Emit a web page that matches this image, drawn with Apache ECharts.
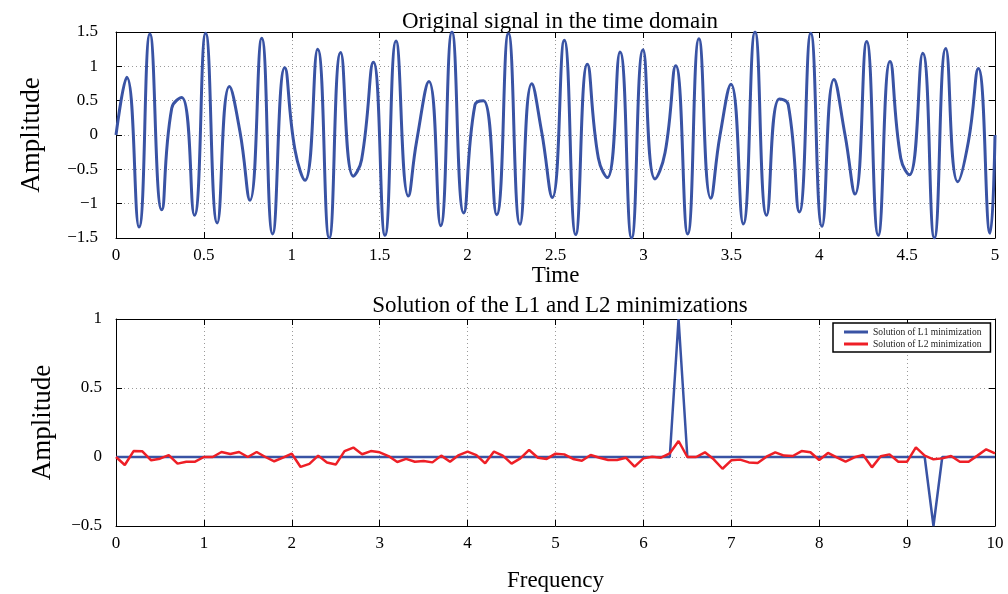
<!DOCTYPE html>
<html>
<head>
<meta charset="utf-8">
<script src="https://cdn.jsdelivr.net/npm/echarts@6/dist/echarts.min.js"></script>
<style>html,body{margin:0;padding:0;background:#fff;}#c{width:1008px;height:594px;}</style>
</head>
<body>
<div id="c"></div>
<script>
// Top panel: time-domain signal, read at local extrema / shoulders
const timeVals = [0, 0.061, 0.131, 0.193, 0.26, 0.317, 0.374, 0.446, 0.51, 0.576, 0.645, 0.705, 0.762, 0.829, 0.891, 0.96, 1.018, 1.075, 1.147, 1.213, 1.278, 1.35, 1.397, 1.464, 1.53, 1.593, 1.663, 1.71, 1.78, 1.847, 1.911, 1.978, 2.042, 2.09, 2.165, 2.232, 2.298, 2.365, 2.421, 2.482, 2.55, 2.615, 2.681, 2.744, 2.795, 2.867, 2.933, 2.998, 3.066, 3.123, 3.184, 3.252, 3.316, 3.383, 3.436, 3.498, 3.568, 3.635, 3.701, 3.773, 3.824, 3.887, 3.952, 4.016, 4.084, 4.147, 4.204, 4.27, 4.336, 4.403, 4.464, 4.513, 4.589, 4.655, 4.72, 4.788, 4.849, 4.905, 4.972, 5.0];
const signalVals = [0, 0.84, -1.34, 1.47, -1.09, 0.39, 0.545, -1.17, 1.48, -1.28, 0.705, 0.05, -0.95, 1.41, -1.44, 0.98, -0.215, -0.66, 1.25, -1.5, 1.2, -0.6, -0.36, 1.06, -1.46, 1.37, -0.89, -0.09, 0.78, -1.32, 1.5, -1.135, 0.44, 0.5, -1.16, 1.48, -1.3, 0.745, 0.05, -0.91, 1.38, -1.45, 1.03, -0.34, -0.62, 1.21, -1.5, 1.24, -0.64, -0.26, 1.01, -1.44, 1.4, -0.92, 0.0, 0.74, -1.295, 1.5, -1.17, 0.526, 0.44, -1.12, 1.48, -1.33, 0.81, 0.0, -0.86, 1.36, -1.46, 1.07, -0.34, -0.58, 1.19, -1.5, 1.26, -0.68, -0.09, 0.97, -1.43, 0.0];

// Bottom panel: frequency grid and the two solutions
const freqVals = [0,0.1,0.2,0.3,0.4,0.5,0.6,0.7,0.8,0.9,1,1.1,1.2,1.3,1.4,1.5,1.6,1.7,1.8,1.9,2,2.1,2.2,2.3,2.4,2.5,2.6,2.7,2.8,2.9,3,3.1,3.2,3.3,3.4,3.5,3.6,3.7,3.8,3.9,4,4.1,4.2,4.3,4.4,4.5,4.6,4.7,4.8,4.9,5,5.1,5.2,5.3,5.4,5.5,5.6,5.7,5.8,5.9,6,6.1,6.2,6.3,6.4,6.5,6.6,6.7,6.8,6.9,7,7.1,7.2,7.3,7.4,7.5,7.6,7.7,7.8,7.9,8,8.1,8.2,8.3,8.4,8.5,8.6,8.7,8.8,8.9,9,9.1,9.2,9.3,9.4,9.5,9.6,9.7,9.8,9.9,10];
const l1Vals = [0,0,0,0,0,0,0,0,0,0, 0,0,0,0,0,0,0,0,0,0, 0,0,0,0,0,0,0,0,0,0, 0,0,0,0,0,0,0,0,0,0, 0,0,0,0,0,0,0,0,0,0, 0,0,0,0,0,0,0,0,0,0, 0,0,0,0,1,0,0,0,0,0, 0,0,0,0,0,0,0,0,0,0, 0,0,0,0,0,0,0,0,0,0, 0,0,0,-0.5,0,0,0,0,0,0, 0];
const l2Vals = [0, -0.058, 0.043, 0.041, -0.024, -0.012, 0.014, -0.048, -0.034, -0.034,
  0, 0, 0.036, 0.022, 0.036, 0, 0.036, 0, -0.031, -0.005,
  0.024, -0.072, -0.05, 0.01, -0.04, -0.055, 0.043, 0.068, 0.02, 0.043,
  0.034, 0.007, -0.036, -0.014, -0.034, -0.029, -0.039, 0.01, -0.034, 0.014,
  0.039, 0.014, -0.046, 0.039, 0.01, -0.048, -0.01, 0.051, -0.005, -0.014,
  0.024, 0.019, -0.014, -0.027, 0.014, -0.005, -0.022, -0.022, -0.005, -0.07,
  -0.01, 0.002, -0.005, 0.027, 0.116, 0, 0, 0.034, -0.017, -0.085,
  -0.024, -0.019, -0.039, -0.043, 0.002, 0.034, 0.01, 0.007, 0.043, 0.034,
  -0.022, 0.029, -0.002, -0.034, -0.002, 0.014, -0.075, 0.005, 0.019, -0.034,
  -0.034, 0.07, 0.01, -0.017, -0.01, 0.007, -0.034, -0.034, 0.01, 0.056,
  0.027];

const titles = ['Original signal in the time domain', 'Solution of the L1 and L2 minimizations'];
const l1Name = 'Solution of L1 minimization';
const l2Name = 'Solution of L2 minimization';

const FONT = '"Liberation Serif", "Times New Roman", serif';
const BLUE = '#3953a4';
const RED = '#ee1f26';
const fmt = v => String(v).replace('-', '\u2212');
const grid = '#9a9a9a';

function mainX(gi, min, max, interval, name, gap) {
  return {
    type: 'value', gridIndex: gi, min, max, interval, position: 'bottom',
    name, nameLocation: 'middle', nameGap: gap,
    nameTextStyle: {fontFamily: FONT, fontSize: 23, color: '#000'},
    axisLine: {show: true, onZero: false, lineStyle: {color: '#000', width: 1}},
    axisTick: {show: true, inside: true, length: 6, lineStyle: {color: '#000'}},
    axisLabel: {fontFamily: FONT, fontSize: 17, color: '#000', margin: 9, formatter: fmt},
    splitLine: {show: true, lineStyle: {color: grid, type: [1, 3], width: 1}}
  };
}
function sideX(gi, min, max, interval) {
  return {
    type: 'value', gridIndex: gi, min, max, interval, position: 'top',
    axisLine: {show: true, onZero: false, lineStyle: {color: '#000', width: 1}},
    axisTick: {show: true, inside: true, length: 6, lineStyle: {color: '#000'}},
    axisLabel: {show: false}, splitLine: {show: false}
  };
}
function mainY(gi, min, max, interval, gap, lm) {
  return {
    type: 'value', gridIndex: gi, min, max, interval, position: 'left',
    name: 'Amplitude', nameLocation: 'middle', nameGap: gap, nameRotate: 90,
    nameTextStyle: {fontFamily: FONT, fontSize: 27, color: '#000'},
    axisLine: {show: true, onZero: false, lineStyle: {color: '#000', width: 1}},
    axisTick: {show: true, inside: true, length: 6, lineStyle: {color: '#000'}},
    axisLabel: {fontFamily: FONT, fontSize: 17, color: '#000', margin: lm, formatter: fmt},
    splitLine: {show: true, lineStyle: {color: grid, type: [1, 3], width: 1}}
  };
}
function sideY(gi, min, max, interval) {
  return {
    type: 'value', gridIndex: gi, min, max, interval, position: 'right',
    axisLine: {show: true, onZero: false, lineStyle: {color: '#000', width: 1}},
    axisTick: {show: true, inside: true, length: 6, lineStyle: {color: '#000'}},
    axisLabel: {show: false}, splitLine: {show: false}
  };
}

const chart = echarts.init(document.getElementById('c'), null, {renderer: 'canvas'});
chart.setOption({
  backgroundColor: '#fff',
  animation: false,
  title: [
    {text: titles[0], left: 555, top: 5, textAlign: 'center',
     textStyle: {fontFamily: FONT, fontSize: 23, fontWeight: 'normal', color: '#000'}},
    {text: titles[1], left: 555, top: 289, textAlign: 'center',
     textStyle: {fontFamily: FONT, fontSize: 23, fontWeight: 'normal', color: '#000'}}
  ],
  grid: [
    {left: 116, top: 32, width: 879, height: 206, outerBoundsMode: 'none', containLabel: false},
    {left: 116, top: 319, width: 879, height: 207, outerBoundsMode: 'none', containLabel: false}
  ],
  xAxis: [
    mainX(0, 0, 5, 0.5, 'Time', 16), sideX(0, 0, 5, 0.5),
    mainX(1, 0, 10, 1, 'Frequency', 43), sideX(1, 0, 10, 1)
  ],
  yAxis: [
    mainY(0, -1.5, 1.5, 0.5, 71, 18), sideY(0, -1.5, 1.5, 0.5),
    mainY(1, -0.5, 1, 0.5, 60, 14), sideY(1, -0.5, 1, 0.5)
  ],
  legend: {
    data: [
      {name: l1Name, icon: 'rect', itemStyle: {color: BLUE}},
      {name: l2Name, icon: 'rect', itemStyle: {color: RED}}
    ],
    orient: 'vertical', left: 833, top: 323,
    itemWidth: 24, itemHeight: 3, itemGap: 2,
    borderColor: '#000', borderWidth: 1.5, backgroundColor: '#fff',
    padding: [4, 9, 3, 11],
    textStyle: {fontFamily: FONT, fontSize: 9.5, color: '#222'}
  },
  series: [
    {type: 'line', xAxisIndex: 0, yAxisIndex: 0, smooth: 0.5,
     data: timeVals.map((t, i) => [t, signalVals[i]]),
     showSymbol: false, symbol: 'none', lineStyle: {color: BLUE, width: 3}, clip: true},
    {name: l1Name, type: 'line', xAxisIndex: 2, yAxisIndex: 2,
     data: freqVals.map((f, i) => [f, l1Vals[i]]),
     showSymbol: false, symbol: 'none', color: BLUE, lineStyle: {color: BLUE, width: 2.5}, clip: true},
    {name: l2Name, type: 'line', xAxisIndex: 2, yAxisIndex: 2,
     data: freqVals.map((f, i) => [f, l2Vals[i]]),
     showSymbol: false, symbol: 'none', color: RED, lineStyle: {color: RED, width: 2.5}, clip: true}
  ]
});
</script>
</body>
</html>
